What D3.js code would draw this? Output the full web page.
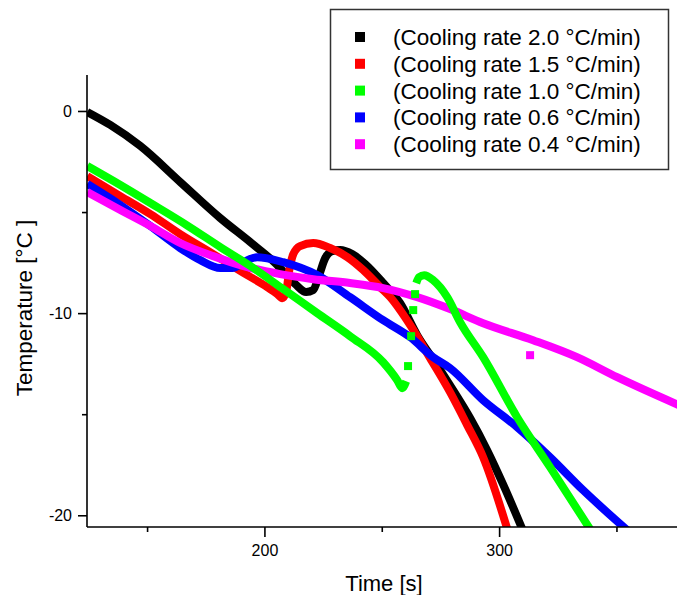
<!DOCTYPE html>
<html>
<head>
<meta charset="utf-8">
<script src="https://cdn.jsdelivr.net/npm/d3@7"></script>
<style>
  body { margin: 0; background: #fff; }
  svg { display: block; font-family: "Liberation Sans", Arial, sans-serif; }
</style>
</head>
<body>
<div id="graph-container"></div>
<script>
// series: [time s, temperature °C]
const rate20 = [[124.5,-0.05],[134.3,-0.69],[147.1,-1.73],[164.1,-3.51],[181.2,-5.30],[194.0,-6.49],[204.6,-7.52],[213.1,-8.56],[217.8,-8.96],[220.8,-8.86],[223.3,-8.12],[225.9,-7.28],[228.9,-6.93],[232.3,-6.88],[237.4,-7.08],[242.9,-7.57],[250.6,-8.51],[257.8,-9.50],[265.1,-11.09],[273.6,-12.57],[280.4,-13.81],[287.7,-15.20],[294.9,-16.78],[301.7,-18.47],[310.3,-20.8]];
const rate15 = [[124.5,-3.22],[138.6,-4.21],[151.4,-5.10],[164.1,-6.09],[178.2,-7.08],[192.7,-8.12],[201.2,-8.71],[205.5,-9.06],[207.6,-9.26],[209.3,-8.91],[210.6,-7.87],[212.3,-7.08],[215.2,-6.68],[220.8,-6.53],[228.0,-6.78],[235.3,-7.23],[242.1,-7.87],[249.3,-8.71],[253.6,-9.21],[262.1,-10.59],[270.6,-12.23],[279.1,-13.91],[286.4,-15.54],[293.2,-17.13],[303.8,-20.8]];
const rate10a = [[124.5,-2.72],[138.6,-3.66],[151.4,-4.55],[167.5,-5.69],[181.2,-6.73],[194.0,-7.67],[208.0,-8.81],[222.5,-10.00],[236.5,-11.14],[250.6,-12.43],[256.6,-13.32],[258.7,-13.71],[260.4,-13.37]];
const rate10jump = [[261.2,-12.62],[262.5,-11.14],[263.4,-9.85],[264.2,-9.06]];
const rate10b = [[264.7,-8.51],[265.9,-8.22],[268.1,-8.12],[271.9,-8.37],[277.9,-9.21],[283.4,-10.45],[293.2,-12.18],[307.7,-15.15],[321.7,-17.62],[339.4,-20.8]];
const rate06 = [[124.5,-3.61],[138.6,-4.65],[151.4,-5.69],[164.1,-6.78],[172.7,-7.38],[181.2,-7.77],[186.3,-7.77],[191.8,-7.43],[196.9,-7.23],[208.0,-7.48],[222.5,-8.12],[236.5,-9.21],[250.6,-10.35],[262.1,-11.19],[271.9,-12.18],[279.1,-12.72],[293.2,-14.31],[307.7,-15.64],[321.7,-17.13],[335.8,-18.76],[355.2,-20.8]];
const rate04 = [[124.5,-4.01],[138.6,-4.90],[151.4,-5.69],[164.1,-6.53],[178.2,-7.18],[192.7,-7.72],[206.7,-8.07],[220.8,-8.32],[236.5,-8.51],[250.6,-8.76],[265.1,-9.21],[279.1,-9.80],[293.2,-10.50],[314.5,-11.34],[333.2,-12.18],[350.3,-13.17],[376.5,-14.55]];
const rate04odd = [[313.2,-12.08]];

const legendLabels = ["(Cooling rate 2.0 °C/min)", "(Cooling rate 1.5 °C/min)", "(Cooling rate 1.0 °C/min)", "(Cooling rate 0.6 °C/min)", "(Cooling rate 0.4 °C/min)"];
const colors = ["#000000", "#ff0000", "#00ff00", "#0000ff", "#ff00ff"];

const xMajor = [200, 300];
const xMinor = [150, 250, 350];
const yMajor = [0, -10, -20];
const yMinor = [-5, -15];

const W = 677, H = 595;
const margin = {top: 75, right: 0, bottom: 68, left: 87};

const svg = d3.select("#graph-container")
  .append("svg")
    .attr("width", W)
    .attr("height", H);

const x = d3.scaleLinear()
  .domain([124.4, 375.8])
  .range([margin.left, W - margin.right]);
const y = d3.scaleLinear()
  .domain([-20.58, 1.78])
  .range([H - margin.bottom, margin.top]);

// keep the bands inside the frame
svg.append("clipPath")
    .attr("id", "plot-clip")
  .append("rect")
    .attr("x", x.range()[0])
    .attr("y", y.range()[1] - 10)
    .attr("width", x.range()[1] - x.range()[0])
    .attr("height", y.range()[0] - y.range()[1] + 10);

// axes: major ticks labelled, minor ticks short
const xAxis = svg.append("g")
  .attr("transform", "translate(0," + y.range()[0] + ")")
  .call(d3.axisBottom(x).tickValues(xMajor).tickSize(10).tickPadding(8).tickFormat(d => d));
const xMinorAxis = xAxis.append("g")
  .call(d3.axisBottom(x).tickValues(xMinor).tickSize(5).tickFormat(""));

const yAxis = svg.append("g")
  .attr("transform", "translate(" + margin.left + ",0)")
  .call(d3.axisLeft(y).tickValues(yMajor).tickSize(9).tickPadding(6).tickFormat(d => d));
const yMinorAxis = yAxis.append("g")
  .call(d3.axisLeft(y).tickValues(yMinor).tickSize(5).tickFormat(""));

// plain axis lines, no end ticks
xMinorAxis.select(".domain").remove();
yMinorAxis.select(".domain").remove();
xAxis.select(".domain")
  .attr("d", "M" + x.range()[0] + ",0H" + x.range()[1])
  .attr("stroke", "#000").attr("stroke-width", 1.6);
yAxis.select(".domain")
  .attr("d", "M0," + y.range()[0] + "V" + y.range()[1])
  .attr("stroke", "#000").attr("stroke-width", 1.6);

svg.selectAll(".tick line").attr("stroke", "#000").attr("stroke-width", 1.6);
svg.selectAll(".tick text")
  .attr("fill", "#000")
  .style("font-size", "16px")
  .style("font-family", "'Liberation Sans', Arial, sans-serif");

// axis titles
svg.append("text")
  .attr("x", 384)
  .attr("y", 591)
  .attr("text-anchor", "middle")
  .style("font-size", "22px")
  .text("Time [s]");

svg.append("text")
  .attr("transform", "translate(32,308) rotate(-90)")
  .attr("text-anchor", "middle")
  .style("font-size", "22.5px")
  .text("Temperature [°C ]");

// curves (dense square markers look like thick bands)
const line = d3.line()
  .curve(d3.curveMonotoneX)
  .x(d => x(d[0]))
  .y(d => y(d[1]));

const plot = svg.append("g")
  .attr("clip-path", "url(#plot-clip)");
const bands = [
  {data: rate20, c: colors[0]},
  {data: rate15, c: colors[1]},
  {data: rate06, c: colors[3]},
  {data: rate04, c: colors[4]},
  {data: rate10a, c: colors[2]},
  {data: rate10b, c: colors[2]}
];
bands.forEach(b => {
  plot.append("path")
    .attr("d", line(b.data))
    .attr("fill", "none")
    .attr("stroke", b.c)
    .attr("stroke-width", 8)
    .attr("stroke-linejoin", "round");
});

// isolated points
const sq = 8;
plot.selectAll(".odd04")
  .data(rate04odd)
  .enter()
  .append("rect")
    .attr("x", d => x(d[0]) - sq / 2)
    .attr("y", d => y(d[1]) - sq / 2)
    .attr("width", sq)
    .attr("height", sq)
    .attr("fill", colors[4]);
plot.selectAll(".jump10")
  .data(rate10jump)
  .enter()
  .append("rect")
    .attr("x", d => x(d[0]) - sq / 2)
    .attr("y", d => y(d[1]) - sq / 2)
    .attr("width", sq)
    .attr("height", sq)
    .attr("fill", colors[2]);

// redraw the axis lines over the bands
svg.node().appendChild(xAxis.node());
svg.node().appendChild(yAxis.node());

// legend
const legend = svg.append("g");
legend.append("rect")
  .attr("x", 330.5)
  .attr("y", 9.5)
  .attr("width", 338)
  .attr("height", 160)
  .attr("fill", "#fff")
  .attr("stroke", "#333")
  .attr("stroke-width", 1.5);

const rows = legend.selectAll(".row")
  .data(legendLabels)
  .enter()
  .append("g")
    .attr("transform", (d, i) => "translate(0," + (37 + i * 26.8) + ")");
rows.append("rect")
  .attr("x", 355)
  .attr("y", -5)
  .attr("width", 10)
  .attr("height", 10)
  .attr("fill", (d, i) => colors[i]);
rows.append("text")
  .attr("x", 393)
  .attr("y", 8)
  .style("font-size", "22.5px")
  .text(d => d);
</script>
</body>
</html>
